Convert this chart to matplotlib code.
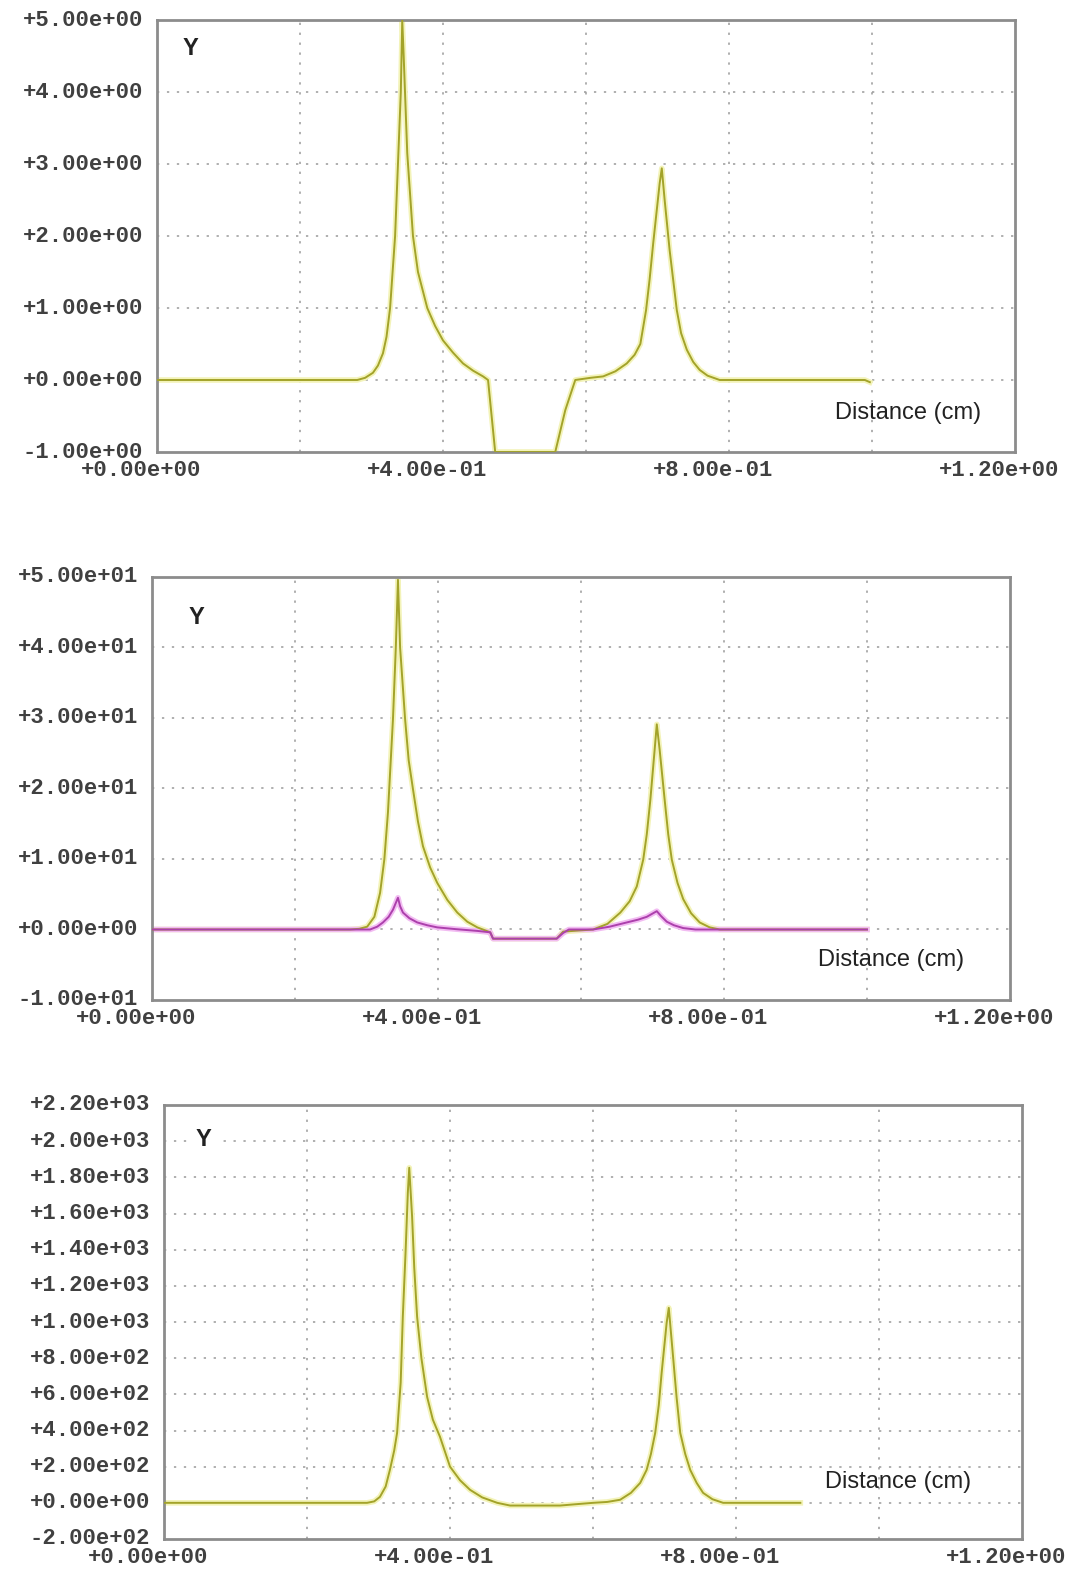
import matplotlib
matplotlib.use("Agg")
import matplotlib.pyplot as plt
from matplotlib.transforms import ScaledTranslation

# ---------------- data ----------------
x_ticks = [0.0, 0.4, 0.8, 1.2]
x_tick_labels = ["+0.00e+00", "+4.00e-01", "+8.00e-01", "+1.20e+00"]
x_grid = [0.2, 0.4, 0.6, 0.8, 1.0]

# panel 1
p1_yticks = [-1, 0, 1, 2, 3, 4, 5]
p1_ylabels = ["-1.00e+00", "+0.00e+00", "+1.00e+00", "+2.00e+00", "+3.00e+00", "+4.00e+00", "+5.00e+00"]
p1_x = [0.0, 0.28, 0.291, 0.302, 0.309, 0.316, 0.321, 0.326, 0.333, 0.337, 0.341, 0.343, 0.345, 0.350,
        0.358, 0.365, 0.378, 0.389, 0.400, 0.414, 0.428, 0.442, 0.456, 0.463, 0.473, 0.557, 0.571, 0.585,
        0.606, 0.624, 0.641, 0.657, 0.668, 0.676, 0.684, 0.689, 0.694, 0.703, 0.706, 0.710, 0.717, 0.727,
        0.733, 0.741, 0.750, 0.759, 0.770, 0.787, 0.99, 0.997]
p1_y = [0, 0, 0.03, 0.1, 0.2, 0.37, 0.6, 1.0, 2.0, 3.0, 4.0, 5.0, 4.5, 3.15,
        2.0, 1.5, 1.0, 0.75, 0.55, 0.38, 0.23, 0.13, 0.05, 0.0, -1.0, -1.0, -0.42, 0.0,
        0.03, 0.05, 0.12, 0.23, 0.35, 0.5, 0.97, 1.4, 1.9, 2.73, 2.94, 2.5, 1.8, 0.97,
        0.65, 0.42, 0.25, 0.14, 0.06, 0.0, 0.0, -0.03]

# panel 2
p2_yticks = [-10, 0, 10, 20, 30, 40, 50]
p2_ylabels = ["-1.00e+01", "+0.00e+00", "+1.00e+01", "+2.00e+01", "+3.00e+01", "+4.00e+01", "+5.00e+01"]
p2a_x = [0.0, 0.277, 0.290, 0.301, 0.311, 0.319, 0.325, 0.330, 0.337, 0.341, 0.344, 0.347, 0.354, 0.359,
         0.365, 0.372, 0.379, 0.389, 0.399, 0.413, 0.427, 0.441, 0.455, 0.473, 0.477, 0.566, 0.575, 0.617,
         0.637, 0.655, 0.668, 0.678, 0.687, 0.692, 0.697, 0.703, 0.706, 0.710, 0.717, 0.722, 0.727, 0.735,
         0.743, 0.754, 0.766, 0.780, 0.794, 1.0]
p2a_y = [0, 0, 0.1, 0.4, 1.8, 5.2, 10, 16.6, 29.8, 40, 49.6, 40, 29.8, 24,
         19.9, 15.3, 11.8, 8.8, 6.6, 4.2, 2.4, 1.1, 0.3, -0.4, -1.3, -1.3, -0.3, 0,
         0.8, 2.4, 4.0, 6.1, 9.9, 13.5, 18.4, 25.5, 29.1, 25.5, 18.4, 13.5, 9.9, 6.6,
         4.3, 2.3, 1.0, 0.3, 0, 0]
p2b_x = [0.0, 0.305, 0.315, 0.323, 0.331, 0.337, 0.344, 0.347, 0.351, 0.360, 0.371, 0.385, 0.399, 0.425,
         0.455, 0.473, 0.477, 0.566, 0.575, 0.583, 0.617, 0.640, 0.664, 0.680, 0.692, 0.706, 0.712, 0.720,
         0.730, 0.743, 0.760, 1.0]
p2b_y = [0, 0, 0.4, 1.0, 1.8, 2.8, 4.5, 3.3, 2.4, 1.6, 1.0, 0.6, 0.3, 0.05,
         -0.2, -0.4, -1.3, -1.3, -0.5, 0, 0, 0.4, 1.0, 1.4, 1.8, 2.6, 1.9, 1.1,
         0.6, 0.2, 0, 0]

# panel 3
p3_yticks = [-200, 0, 200, 400, 600, 800, 1000, 1200, 1400, 1600, 1800, 2000, 2200]
p3_ylabels = ["-2.00e+02", "+0.00e+00", "+2.00e+02", "+4.00e+02", "+6.00e+02", "+8.00e+02", "+1.00e+03",
              "+1.20e+03", "+1.40e+03", "+1.60e+03", "+1.80e+03", "+2.00e+03", "+2.20e+03"]
p3_x = [0.0, 0.284, 0.294, 0.302, 0.310, 0.316, 0.322, 0.326, 0.331, 0.334, 0.338, 0.341, 0.343, 0.347,
        0.350, 0.354, 0.360, 0.368, 0.376, 0.386, 0.400, 0.414, 0.428, 0.445, 0.466, 0.484, 0.554, 0.575,
        0.600, 0.620, 0.638, 0.653, 0.666, 0.675, 0.681, 0.687, 0.692, 0.696, 0.703, 0.706, 0.712, 0.717,
        0.722, 0.729, 0.736, 0.745, 0.754, 0.767, 0.782, 0.890]
p3_y = [0, 0, 8, 33, 90, 183, 290, 387, 664, 1029, 1400, 1714, 1853, 1582,
        1300, 1029, 800, 586, 460, 365, 200, 125, 72, 30, 0, -15, -15, -8,
        0, 5, 17, 55, 110, 182, 270, 387, 540, 719, 995, 1078, 807, 580,
        387, 270, 182, 110, 55, 20, 0, 0]

# ---------------- style ----------------
W, H = 1077, 1571
fig = plt.figure(figsize=(W / 100, H / 100), dpi=100)
fig.patch.set_facecolor("white")

MONO = ["Liberation Mono", "DejaVu Sans Mono"]
SANS = ["Liberation Sans", "DejaVu Sans"]
TICK_FS = 16
TICK_COLOR = "#404040"
YEL_CORE, YEL_HALO = "#a3a32a", "#f3f3b8"
MAG_CORE, MAG_HALO = "#ac40ac", "#f2bcf2"


def px_axes(left, top, right, bottom):
    return [left / W, 1 - bottom / H, (right - left) / W, (bottom - top) / H]


def setup(ax, yticks, ylabels, ylim, ylab_pos, dist_pos):
    ax.set_xlim(0, 1.2)
    ax.set_ylim(*ylim)
    ax.set_xticks([])
    ax.set_yticks([])
    for s in ax.spines.values():
        s.set_color("#8c8c8c")
        s.set_linewidth(2)
    # grid
    for g in x_grid:
        ax.axvline(g, color="#9a9a9a", lw=1.1, ls=(0, (1.5, 5)), zorder=1)
    for yt in yticks:
        if ylim[0] < yt < ylim[1]:
            ax.axhline(yt, color="#9a9a9a", lw=1.1, ls=(0, (1.5, 5)), zorder=1)
    # tick labels
    xoff = ScaledTranslation(-15.5 / 100, -18.5 / 100, fig.dpi_scale_trans)
    for xt, lab in zip(x_ticks, x_tick_labels):
        ax.text(xt, 0, lab, transform=ax.get_xaxis_transform() + xoff, ha="center", va="center",
                family=MONO, fontsize=TICK_FS, fontweight="bold", color=TICK_COLOR, clip_on=False)
    yoff = ScaledTranslation(-14 / 100, 0, fig.dpi_scale_trans)
    for yt, lab in zip(yticks, ylabels):
        ax.text(0, yt, lab, transform=ax.get_yaxis_transform() + yoff, ha="right", va="center",
                family=MONO, fontsize=TICK_FS, fontweight="bold", color=TICK_COLOR, clip_on=False)
    ax.text(ylab_pos[0], ylab_pos[1], "Y", transform=ax.transAxes, ha="center", va="center",
            family=SANS, fontsize=17, fontweight="bold", color="#222222", zorder=5,
            bbox=dict(boxstyle="square,pad=0.25", fc="white", ec="none"))
    ax.text(dist_pos[0], dist_pos[1], "Distance (cm)", transform=ax.transAxes, ha="center", va="center",
            family=SANS, fontsize=17, color="#222222", zorder=5)


def line(ax, x, y, core, halo):
    ax.plot(x, y, color=halo, lw=4.0, solid_joinstyle="round", zorder=2)
    ax.plot(x, y, color=core, lw=1.4, solid_joinstyle="round", zorder=3)


ax1 = fig.add_axes(px_axes(157, 20, 1015, 452))
setup(ax1, p1_yticks, p1_ylabels, (-1, 5), (0.039, 0.935), (0.875, 0.09))
line(ax1, p1_x, p1_y, YEL_CORE, YEL_HALO)

ax2 = fig.add_axes(px_axes(152, 577, 1010, 1000))
setup(ax2, p2_yticks, p2_ylabels, (-10, 50), (0.052, 0.905), (0.861, 0.095))
line(ax2, p2a_x, p2a_y, YEL_CORE, YEL_HALO)
line(ax2, p2b_x, p2b_y, MAG_CORE, MAG_HALO)

ax3 = fig.add_axes(px_axes(164, 1105, 1022, 1539))
setup(ax3, p3_yticks, p3_ylabels, (-200, 2200), (0.046, 0.921), (0.855, 0.131))
line(ax3, p3_x, p3_y, YEL_CORE, YEL_HALO)

fig.savefig("out.png", dpi=100, facecolor="white")
